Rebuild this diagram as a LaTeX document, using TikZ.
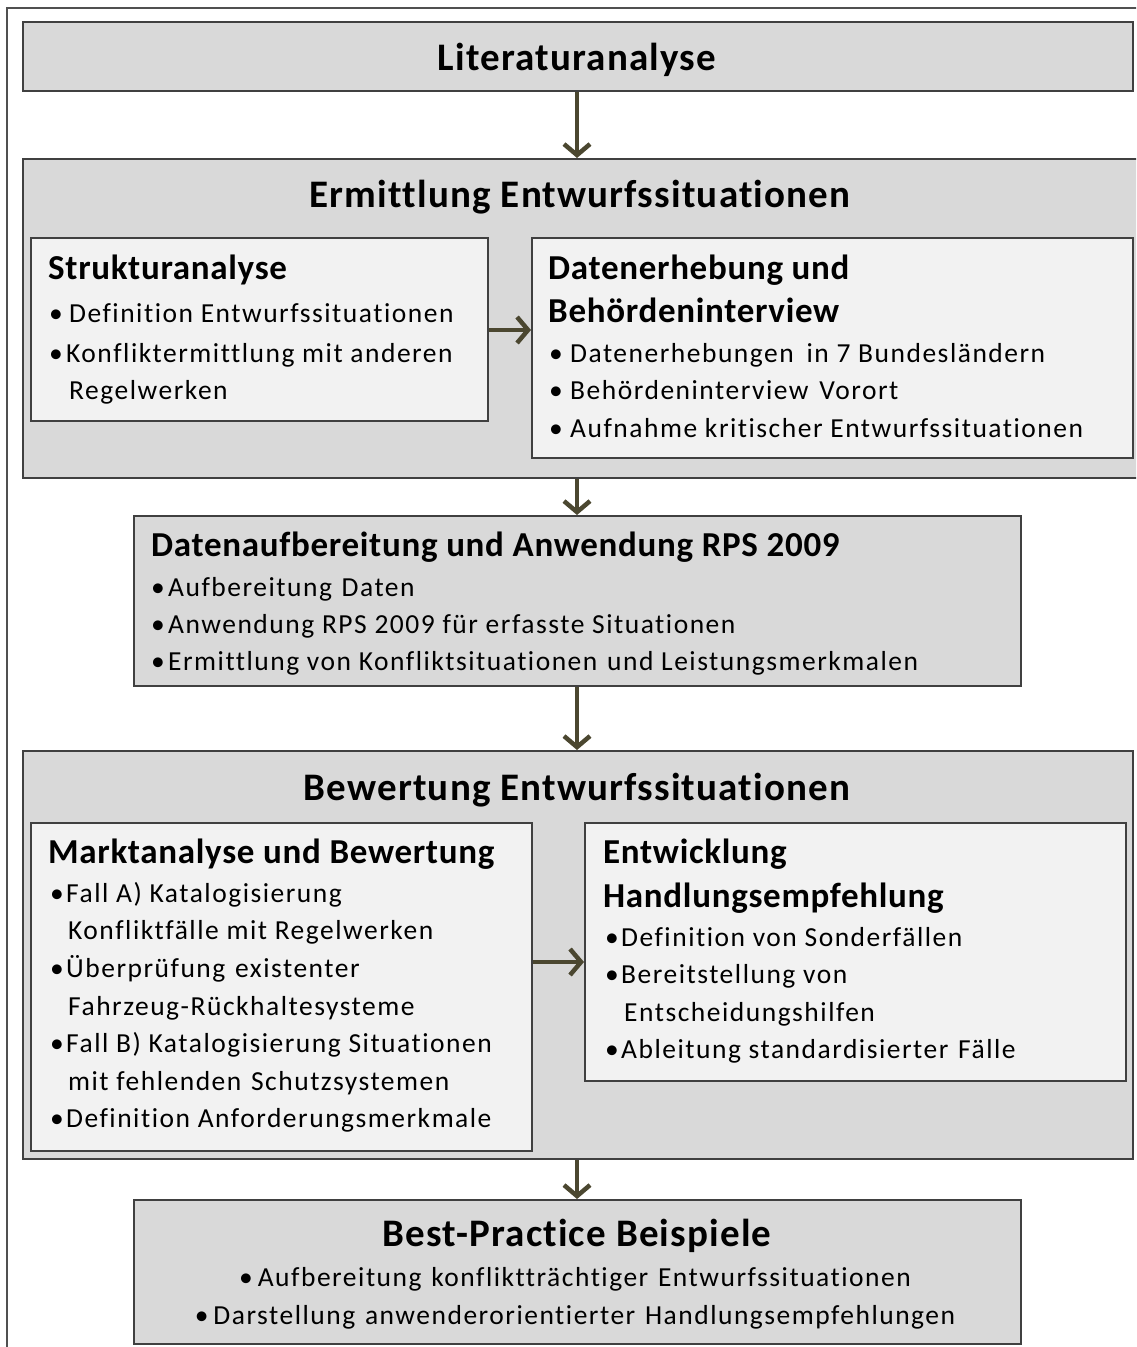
\documentclass[tikz,border=0pt]{standalone}
\usepackage{fontspec}
\setmainfont{Carlito}
\newfontfamily\bodyf[LetterSpace=5.5,Ligatures=NoCommon]{Carlito}
\newfontfamily\titf[LetterSpace=3,Ligatures=NoCommon]{Carlito}
\newfontfamily\subf[LetterSpace=2,Ligatures=NoCommon]{Carlito}
\usetikzlibrary{arrows.meta}
\definecolor{boxfill}{HTML}{D9D9D9}
\definecolor{innerfill}{HTML}{F2F2F2}
\definecolor{boxline}{HTML}{404040}
\definecolor{arrowcol}{HTML}{4B4730}
\definecolor{framecol}{HTML}{505050}
\tikzset{
  outerbox/.style={draw=boxline, line width=2pt, fill=boxfill, inner sep=0pt, anchor=north west},
  innerbox/.style={draw=boxline, line width=1.6pt, fill=innerfill, inner sep=0pt, anchor=north west},
  bigtitle/.style={inner sep=0pt, anchor=base, font=\titf\bfseries\fontsize{39}{39}\selectfont},
  subtitle/.style={inner sep=0pt, anchor=base west, font=\subf\bfseries\fontsize{35}{35}\selectfont},
  btxt/.style={inner sep=0pt, anchor=base west, font=\bodyf\fontsize{27.5}{27.5}\selectfont},
  ctxt/.style={inner sep=0pt, anchor=base, font=\bodyf\fontsize{27.5}{27.5}\selectfont},
  flow/.style={draw=arrowcol, line width=4.5pt, -{Straight Barb[length=11pt,width=26pt]}},
  frame/.style={draw=framecol, line width=1.5pt}
}
\newcommand\bl[4]{\node[btxt] (#1) at (#2,#3) {#4};}
\newcommand\bp[3]{\node[btxt] (#1) at (#2,#3) {•};}
\begin{document}
\begin{tikzpicture}[x=1pt,y=-1pt]
\useasboundingbox[fill=white] (0,0) rectangle (1136,1347);
\begin{scope}
\clip (0,0) rectangle (1136,1347);
\draw[frame] (7,1360) -- (7,8) -- (1150,8);
% boxes
\node[outerbox, minimum width=1110pt, minimum height=69pt] (lit) at (22,21) {};
\node[outerbox, minimum width=1130pt, minimum height=319pt] (erm) at (22,158) {};
\node[innerbox, minimum width=457pt, minimum height=183pt] (struk) at (30,237) {};
\node[innerbox, minimum width=601pt, minimum height=220pt] (daten) at (531,237) {};
\node[outerbox, minimum width=887pt, minimum height=170pt] (aufb) at (133,515) {};
\node[outerbox, minimum width=1110pt, minimum height=408pt] (bew) at (22,750) {};
\node[innerbox, minimum width=501pt, minimum height=328pt] (markt) at (30,822) {};
\node[innerbox, minimum width=541pt, minimum height=258pt] (entw) at (584,822) {};
\node[outerbox, minimum width=887pt, minimum height=144pt] (best) at (133,1199) {};
% connectors
\coordinate (ax) at (577,0);
\coordinate (h1) at (0,330);
\coordinate (h2) at (0,962);
\draw[flow] (lit.south -| ax) -- (erm.north -| ax);
\draw[flow] (erm.south -| ax) -- (aufb.north -| ax);
\draw[flow] (aufb.south -| ax) -- (bew.north -| ax);
\draw[flow] (bew.south -| ax) -- (best.north -| ax);
\draw[flow] (struk.east |- h1) -- (daten.west |- h1);
\draw[flow] (markt.east |- h2) -- (entw.west |- h2);
% texts
\node[bigtitle] (t-lit) at (577,70) {Literaturanalyse};
\node[bigtitle] (t-erm) at (580,207) {Ermittlung Entwurfssituationen};
\node[subtitle] (t-struk) at (48,279) {Strukturanalyse};
\bp{b-s1}{49}{322}\bl{s1}{69}{322}{Definition Entwurfssituationen}
\bp{b-s2}{49}{362}\bl{s2}{66}{362}{Konfliktermittlung mit anderen}
\bl{s3}{69}{399}{Regelwerken}
\node[subtitle] (t-daten1) at (548,279) {Datenerhebung und};
\node[subtitle] (t-daten2) at (548,322) {Behördeninterview};
\bp{b-d1}{549}{362}\bl{d1}{570}{362}{Datenerhebungen\hspace{5pt} in 7 Bundesländern}
\bp{b-d2}{549}{399}\bl{d2}{570}{399}{Behördeninterview\hspace{3pt} Vorort}
\bp{b-d3}{549}{437}\bl{d3}{570}{437}{Aufnahme kritischer Entwurfssituationen}
\node[subtitle] (t-aufb) at (151,556) {Datenaufbereitung und Anwendung RPS 2009};
\bp{b-a1}{151}{596}\bl{a1}{168}{596}{Aufbereitung\hspace{2pt} Daten}
\bp{b-a2}{151}{633}\bl{a2}{168}{633}{Anwendung RPS 2009 für erfasste Situationen}
\bp{b-a3}{151}{670}\bl{a3}{168}{670}{Ermittlung von Konfliktsituationen\hspace{2pt} und Leistungsmerkmalen}
\node[bigtitle] (t-bew) at (577,800) {Bewertung Entwurfssituationen};
\node[subtitle] (t-markt) at (48,863) {Marktanalyse und Bewertung};
\bp{b-m1}{50}{902}\bl{m1}{66}{902}{Fall A) Katalogisierung}
\bl{m1b}{68}{939}{Konfliktfälle mit Regelwerken}
\bp{b-m2}{50}{977}\bl{m2}{66}{977}{Überprüfung\hspace{2pt} existenter}
\bl{m2b}{68}{1015}{Fahrzeug-Rückhaltesysteme}
\bp{b-m3}{50}{1052}\bl{m3}{66}{1052}{Fall B) Katalogisierung Situationen}
\bl{m3b}{68}{1090}{mit fehlenden\hspace{2pt} Schutzsystemen}
\bp{b-m4}{50}{1127}\bl{m4}{66}{1127}{Definition Anforderungsmerkmale}
\node[subtitle] (t-entw1) at (603,863) {Entwicklung};
\node[subtitle] (t-entw2) at (603,907) {Handlungsempfehlung};
\bp{b-e1}{605}{946}\bl{e1}{621}{946}{Definition von Sonderfällen}
\bp{b-e2}{605}{983}\bl{e2}{621}{983}{Bereitstellung von}
\bl{e2b}{624}{1021}{Entscheidungshilfen}
\bp{b-e3}{605}{1058}\bl{e3}{621}{1058}{Ableitung standardisierter\hspace{2pt} Fälle}
\node[bigtitle] (t-best) at (577,1246) {Best-Practice Beispiele};
\node[ctxt] (p1) at (575,1286) {•\hspace{5pt}Aufbereitung\hspace{2pt} konfliktträchtiger\hspace{2pt} Entwurfssituationen};
\node[ctxt] (p2) at (575,1324) {•\hspace{5pt}Darstellung\hspace{2pt} anwenderorientierter\hspace{2pt} Handlungsempfehlungen};
\end{scope}
\end{tikzpicture}
\end{document}
